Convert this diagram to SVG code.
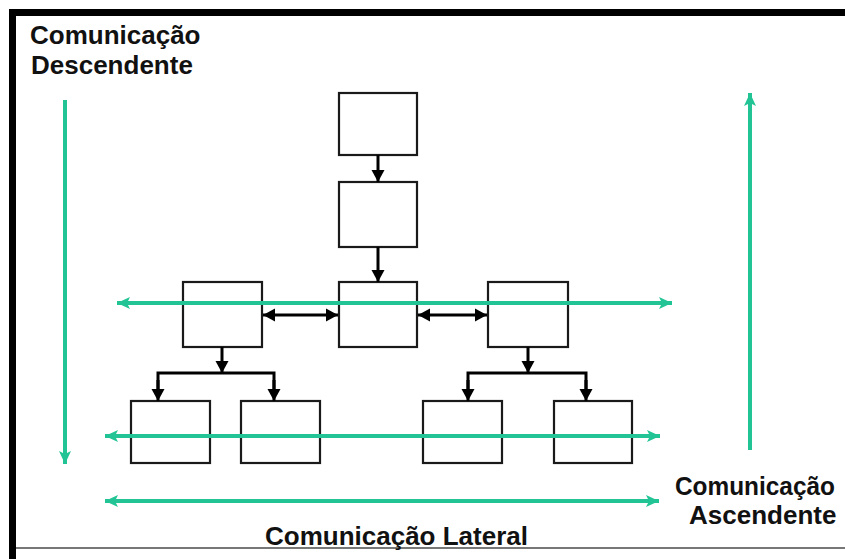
<svg xmlns="http://www.w3.org/2000/svg" width="845" height="559" viewBox="0 0 845 559">
<style>
.box{fill:#fff;stroke:#1a1a1a;stroke-width:2.2}
.blk{stroke:#000;stroke-width:3;fill:none}
.grn{stroke:#22c495;stroke-width:4;fill:none}
.lbl{font-family:"Liberation Sans",Arial,sans-serif;font-weight:bold;font-size:26px;fill:#111}
</style>
<defs>
<marker id="ab" markerUnits="userSpaceOnUse" markerWidth="14" markerHeight="14" refX="12" refY="7" orient="auto-start-reverse">
<path d="M0,0.5 L12,7 L0,13.5 Z" fill="#000"/>
</marker>
<marker id="ag" markerUnits="userSpaceOnUse" markerWidth="14" markerHeight="12" refX="13" refY="6" orient="auto-start-reverse">
<path d="M0,0 L13,6 L0,12 L3,6 Z" fill="#22c495"/>
</marker>
</defs>
<rect width="845" height="559" fill="#fff"/>
<rect x="9" y="9" width="836" height="7" fill="#000"/>
<rect x="9" y="9" width="7" height="550" fill="#000"/>
<rect x="16" y="547" width="829" height="2" fill="#777"/>

<g id="n1"><rect class="box" x="339" y="93" width="78" height="62"/></g>
<g id="n2"><rect class="box" x="339" y="182" width="78" height="65"/></g>
<g id="n3"><rect class="box" x="339" y="282" width="78" height="65"/></g>
<g id="n4"><rect class="box" x="183" y="282" width="79" height="65"/></g>
<g id="n5"><rect class="box" x="488" y="282" width="80" height="65"/></g>
<g id="n6"><rect class="box" x="131" y="401" width="79" height="62"/></g>
<g id="n7"><rect class="box" x="241" y="401" width="79" height="62"/></g>
<g id="n8"><rect class="box" x="423" y="401" width="79" height="62"/></g>
<g id="n9"><rect class="box" x="554" y="401" width="78" height="62"/></g>

<g id="connectors">
<line class="blk" x1="378" y1="155" x2="378" y2="182" marker-end="url(#ab)"/>
<line class="blk" x1="378" y1="247" x2="378" y2="282" marker-end="url(#ab)"/>
<line class="blk" x1="263" y1="315" x2="338" y2="315" marker-start="url(#ab)" marker-end="url(#ab)"/>
<line class="blk" x1="418" y1="315" x2="487" y2="315" marker-start="url(#ab)" marker-end="url(#ab)"/>
<line class="blk" x1="222" y1="347" x2="222" y2="373" marker-end="url(#ab)"/>
<polyline class="blk" points="158,395 158,373 274,373 274,395" stroke-width="2.5"/>
<line class="blk" x1="158" y1="380" x2="158" y2="401" marker-end="url(#ab)"/>
<line class="blk" x1="274" y1="380" x2="274" y2="401" marker-end="url(#ab)"/>
<line class="blk" x1="528" y1="347" x2="528" y2="373" marker-end="url(#ab)"/>
<polyline class="blk" points="468,395 468,373 586,373 586,395" stroke-width="2.5"/>
<line class="blk" x1="468" y1="380" x2="468" y2="401" marker-end="url(#ab)"/>
<line class="blk" x1="586" y1="380" x2="586" y2="401" marker-end="url(#ab)"/>

<line class="grn" x1="65" y1="100" x2="65" y2="464" marker-end="url(#ag)"/>
<line class="grn" x1="750" y1="450" x2="750" y2="93" marker-end="url(#ag)"/>
<line class="grn" x1="117" y1="303" x2="672" y2="303" marker-start="url(#ag)" marker-end="url(#ag)"/>
<line class="grn" x1="105" y1="436" x2="660" y2="436" marker-start="url(#ag)" marker-end="url(#ag)"/>
<line class="grn" x1="105" y1="501" x2="659" y2="501" marker-start="url(#ag)" marker-end="url(#ag)"/>
</g>

<text class="lbl" x="30" y="44">Comunicação</text>
<text class="lbl" x="31" y="74">Descendente</text>
<text class="lbl" x="675" y="495" textLength="160" lengthAdjust="spacingAndGlyphs">Comunicação</text>
<text class="lbl" x="689" y="524">Ascendente</text>
<text class="lbl" x="265" y="545">Comunicação Lateral</text>
</svg>
